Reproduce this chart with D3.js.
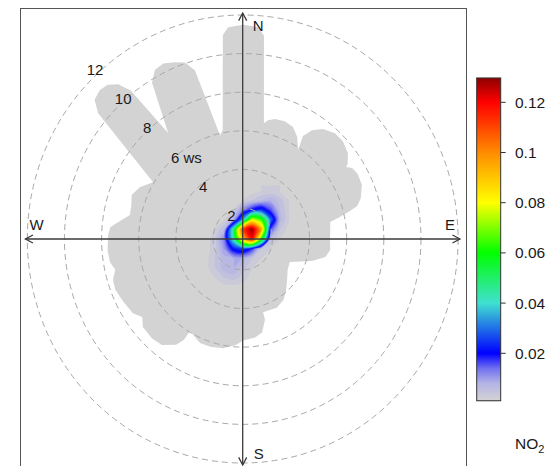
<!DOCTYPE html>
<html>
<head>
<meta charset="utf-8">
<script src="https://cdn.jsdelivr.net/npm/d3@7"></script>
<style>
  html, body { margin: 0; padding: 0; background: #fff; }
  svg { display: block; font-family: "Liberation Sans", Arial, Helvetica, sans-serif; }
</style>
</head>
<body>
<svg id="chart" width="552" height="466"></svg>
<script>
// ---- wind-speed rings -------------------------------------------------------
const ringWs = [2, 4, 6, 8, 10, 12];
const ringLabels = ["2", "4", "6 ws", "8", "10", "12"];
const axisWs = 12.1;

// ---- compass ----------------------------------------------------------------
const compassNames = ["N", "E", "S", "W"];
const compassBearings = [0, 90, 180, 270];

// ---- outline of the area with measurements: [bearing (deg), ws] --------------
const coverage = [
  [354.2, 11.0], [355.9, 11.4], [0.1, 11.5], [4.3, 11.4], [6.2, 11.0], [10.8, 6.5],
  [12.5, 6.7], [15.6, 6.85], [20.4, 6.9], [25.0, 6.8], [29.0, 6.45], [32.9, 5.9],
  [31.3, 6.65], [33.5, 7.15], [37.2, 7.55], [42.2, 7.8], [46.8, 7.8], [51.9, 7.6],
  [55.6, 7.25], [56.2, 7.1],
  [58.0, 7.35], [61.5, 7.45], [66.5, 7.4], [71.6, 7.1], [74.5, 6.8], [75.9, 6.35],
  [77.7, 5.75], [79.4, 5.2], [90.0, 5.1], [96.9, 5.15],
  [101.9, 4.95], [107.0, 4.3], [115.1, 3.2],
  [123.4, 3.3], [131.7, 3.6], [139.7, 4.0], [145.5, 4.25], [152.7, 4.4], [163.9, 4.35],
  [164.0, 4.75], [167.8, 5.35], [172.6, 5.55], [179.8, 5.65],
  [183.8, 5.9], [190.6, 6.15], [197.5, 6.25], [203.1, 6.25], [210.8, 5.95],
  [211.2, 6.5], [213.2, 6.95], [218.4, 7.4], [223.6, 7.5], [229.7, 7.45], [233.3, 7.15],
  [237.0, 7.45], [243.0, 7.6], [249.0, 7.75], [253.1, 7.7], [256.9, 7.45],
  [260.5, 7.65], [265.5, 7.7], [271.6, 7.65], [275.0, 7.55], [277.5, 7.15], [281.6, 6.6],
  [286.3, 6.65], [290.9, 6.8], [296.0, 6.55], [301.4, 6.05],
  [309.9, 10.55], [312.1, 11.15], [315.1, 11.3], [317.7, 11.2], [320.1, 10.85],
  [321.9, 10.15], [323.8, 7.2],
  [328.9, 9.85], [331.6, 10.35], [334.8, 10.45], [338.3, 10.25], [341.2, 10.05],
  [343.6, 9.5], [347.2, 5.9], [349.2, 6.15]
];

// ---- NO2 surface on a u (east) / v (north) grid, in ws units ----------------
const gridU = [-2, -1.5, -1, -0.5, 0, 0.5, 1, 1.5, 2, 2.5, 3];
const gridV = [2.5, 2, 1.5, 1, 0.5, 0, -0.5, -1, -1.5, -2, -2.5, -3];
const no2Grid = [
  [.001, .001, .001, .001, .001, .001, .002, .002, .002, .001, .001],
  [.001, .001, .001, .001, .002, .004, .006, .008, .005, .002, .001],
  [.001, .001, .001, .002, .012, .020, .025, .016, .006, .002, .001],
  [.001, .001, .002, .008, .035, .078, .065, .030, .007, .002, .001],
  [.001, .002, .006, .045, .110, .130, .095, .016, .004, .001, .001],
  [.001, .003, .012, .042, .090, .118, .062, .006, .002, .001, .001],
  [.001, .003, .010, .022, .026, .018, .004, .002, .001, .001, .001],
  [.001, .004, .007, .008, .008, .004, .002, .001, .001, .001, .001],
  [.001, .004, .007, .008, .005, .002, .001, .001, .001, .001, .001],
  [.001, .002, .004, .005, .003, .001, .001, .001, .001, .001, .001],
  [.001, .001, .001, .001, .001, .001, .001, .001, .001, .001, .001],
  [.001, .001, .001, .001, .001, .001, .001, .001, .001, .001, .001]
];
const baseValue = 0.001;

// ---- colour key -------------------------------------------------------------
const keyTicks = [0.02, 0.04, 0.06, 0.08, 0.1, 0.12];
const keyTickLabels = ["0.02", "0.04", "0.06", "0.08", "0.1", "0.12"];
const keyRange = [0.0011, 0.1297];
const paletteStops = [0.001, 0.008, 0.014, 0.02, 0.04, 0.06, 0.08, 0.10, 0.12, 0.13];
const paletteColours = ["#d3d3d3", "#b4b4e6", "#7070f0", "#0000ff", "#40e0d0",
                        "#00ff00", "#ffff00", "#ff8c00", "#ff0000", "#8b0000"];

// =============================================================================
const svg = d3.select("#chart");
const cx = 242.7, cy = 239;
const wsOrigin = 0.4;

// radial scales (the plot area is slightly taller than wide)
const rX = d3.scaleLinear().domain([wsOrigin, 12]).range([0, 215.4]);
const rY = d3.scaleLinear().domain([wsOrigin, 12]).range([0, 224]);
// cartesian scales for the u/v grid
const uX = d3.scaleLinear().domain([0, 1]).range([cx, cx + rX(wsOrigin + 1)]);
const vY = d3.scaleLinear().domain([0, 1]).range([cy, cy - rY(wsOrigin + 1)]);

function polar(bearing, ws, k = 1) {
  const a = bearing * Math.PI / 180;
  return [cx + k * Math.max(0, rX(ws)) * Math.sin(a),
          cy - k * Math.max(0, rY(ws)) * Math.cos(a)];
}

const colour = d3.scaleLinear().domain(paletteStops).range(paletteColours)
  .interpolate(d3.interpolateRgb).clamp(true);

// frame of the panel
svg.append("rect")
  .attr("x", 20.5).attr("y", 8.5).attr("width", 446).attr("height", 470)
  .attr("fill", "none").attr("stroke", "#555").attr("stroke-width", 1);

// area with data
const coverageLine = d3.line().curve(d3.curveLinearClosed);
const coverageD = coverageLine(coverage.map(([b, w]) => polar(b, w)));

svg.append("clipPath").attr("id", "coverClip")
  .append("path").attr("d", coverageD);

svg.append("path")
  .attr("d", coverageD)
  .attr("fill", colour(baseValue));

// NO2 surface as filled contour bands
const levels = d3.range(0.002, 0.1301, 0.002);
const nU = gridU.length, nV = gridV.length;
const colIdx = d3.scaleLinear().domain([0.5, nU - 0.5]).range([gridU[0], gridU[nU - 1]]);
const rowIdx = d3.scaleLinear().domain([0.5, nV - 0.5]).range([gridV[0], gridV[nV - 1]]);
const bands = d3.contours().size([nU, nV]).thresholds(levels)(no2Grid.flat());
const ringPath = d3.line().curve(d3.curveCatmullRomClosed.alpha(0.5));

svg.append("g").attr("clip-path", "url(#coverClip)")
  .selectAll("path").data(bands).join("path")
  .attr("d", d => d.coordinates.map(poly => poly.map(ring =>
      ringPath(ring.slice(0, -1).map(([i, j]) => [uX(colIdx(i)), vY(rowIdx(j))]))
    ).join("")).join(""))
  .attr("fill", d => colour(d.value + 0.001))
  .attr("fill-rule", "evenodd");

// dashed wind-speed rings
svg.append("g").selectAll("ellipse").data(ringWs).join("ellipse")
  .attr("cx", cx).attr("cy", cy)
  .attr("rx", d => rX(d)).attr("ry", d => rY(d))
  .attr("fill", "none").attr("stroke", "#a8a8a8").attr("stroke-width", 1)
  .attr("stroke-dasharray", "6,4");

// compass axes with open arrow heads
const axes = svg.append("g").attr("stroke", "#3a3a3a").attr("stroke-width", 1.3)
  .attr("fill", "none");
[[0, 180], [90, 270]].forEach(([b1, b2]) => {
  const p1 = polar(b1, axisWs), p2 = polar(b2, axisWs);
  axes.append("line").attr("x1", p1[0]).attr("y1", p1[1]).attr("x2", p2[0]).attr("y2", p2[1]);
});
const headLen = 8.5, headAng = 28 * Math.PI / 180;
compassBearings.forEach(b => {
  const tip = polar(b, axisWs);
  const a = b * Math.PI / 180;
  // direction pointing back toward the centre
  const back = [-Math.sin(a), Math.cos(a)];
  const rot = (v, t) => [v[0] * Math.cos(t) - v[1] * Math.sin(t), v[0] * Math.sin(t) + v[1] * Math.cos(t)];
  const l = rot(back, headAng), r = rot(back, -headAng);
  axes.append("path").attr("d",
    `M${tip[0] + l[0] * headLen},${tip[1] + l[1] * headLen}L${tip[0]},${tip[1]}L${tip[0] + r[0] * headLen},${tip[1] + r[1] * headLen}`);
});

// compass letters
const compassOffsets = { N: [10, 18], E: [-15, -9], S: [11, -6], W: [4, -9] };
svg.append("g").selectAll("text").data(compassNames).join("text")
  .attr("x", (d, i) => polar(compassBearings[i], axisWs)[0] + compassOffsets[d][0])
  .attr("y", (d, i) => polar(compassBearings[i], axisWs)[1] + compassOffsets[d][1])
  .attr("font-size", 15).attr("fill", "#1a1a1a")
  .text(d => d);

// ring labels along the north-west diagonal
svg.append("g").selectAll("text").data(ringWs).join("text")
  .attr("x", d => polar(315, d, 1.07)[0] + 7)
  .attr("y", d => polar(315, d, 1.07)[1])
  .attr("dy", "0.36em")
  .attr("font-size", 15).attr("fill", "#1a1a1a")
  .text((d, i) => ringLabels[i]);

// ---- colour key -------------------------------------------------------------
const keyX = 476.7, keyW = 24;
const keyY = d3.scaleLinear().domain([0.02, 0.12]).range([353.3, 102.3]);
const keyTop = keyY(keyRange[1]), keyBottom = keyY(keyRange[0]);
const key = svg.append("g");
key.selectAll("rect.slice").data(d3.range(Math.floor(keyTop), Math.ceil(keyBottom)))
  .join("rect").attr("class", "slice")
  .attr("x", keyX).attr("width", keyW)
  .attr("y", d => Math.max(d, keyTop)).attr("height", 1.2)
  .attr("fill", d => colour(keyY.invert(d + 0.5)));
key.append("rect")
  .attr("x", keyX).attr("y", keyTop).attr("width", keyW).attr("height", keyBottom - keyTop)
  .attr("fill", "none").attr("stroke", "#333").attr("stroke-width", 1);
key.selectAll("line.tick").data(keyTicks).join("line").attr("class", "tick")
  .attr("x1", keyX + keyW).attr("x2", keyX + keyW + 5)
  .attr("y1", d => keyY(d)).attr("y2", d => keyY(d))
  .attr("stroke", "#333").attr("stroke-width", 1);
key.selectAll("text.tl").data(keyTicks).join("text").attr("class", "tl")
  .attr("x", 515).attr("y", d => keyY(d)).attr("dy", "0.36em")
  .attr("font-size", 15.5).attr("fill", "#1a1a1a")
  .text((d, i) => keyTickLabels[i]);

const title = key.append("text").attr("x", 515).attr("y", 449)
  .attr("font-size", 15.5).attr("fill", "#1a1a1a");
title.append("tspan").text("NO");
title.append("tspan").attr("font-size", 11).attr("dy", 4).text("2");
</script>
</body>
</html>
